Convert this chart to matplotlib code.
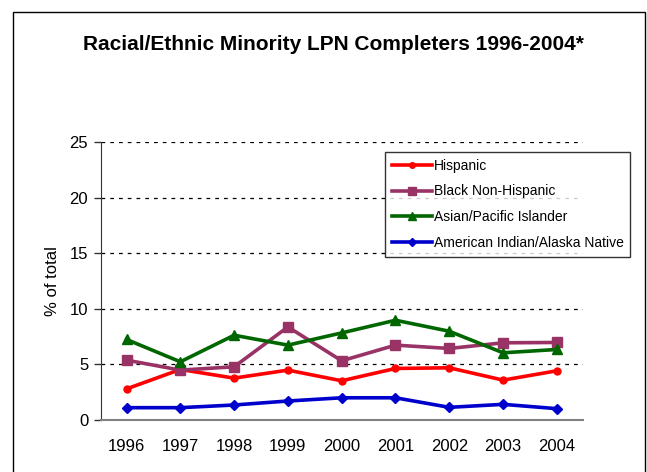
import matplotlib
matplotlib.use("Agg")
import matplotlib.pyplot as plt
from matplotlib.patches import Rectangle
from matplotlib.lines import Line2D

plt.rcParams['font.family'] = ['Liberation Sans', 'DejaVu Sans']

years = ["1996", "1997", "1998", "1999", "2000", "2001", "2002", "2003", "2004"]
hispanic = [2.8, 4.55, 3.77, 4.49, 3.53, 4.64, 4.70, 3.59, 4.43]
black = [5.39, 4.49, 4.79, 8.38, 5.33, 6.74, 6.44, 6.95, 6.98]
asian = [7.25, 5.24, 7.63, 6.74, 7.84, 8.98, 7.99, 6.05, 6.35]
amind = [1.11, 1.11, 1.35, 1.71, 2.0, 2.0, 1.14, 1.41, 1.02]
series_names = ["Hispanic", "Black Non-Hispanic", "Asian/Pacific Islander",
                "American Indian/Alaska Native"]
yticks = [0, 5, 10, 15, 20, 25]

W, H = 647, 472
fig = plt.figure(figsize=(W / 100, H / 100), dpi=100)
fig.patch.set_facecolor('white')

# outer frame
fig.patches.append(Rectangle((13.3 / W, -0.1), (645 - 13.3) / W, 1 - 11.7 / H + 0.1,
                             transform=fig.transFigure, fill=False,
                             edgecolor='black', linewidth=1.0, zorder=0))

ax = fig.add_axes([100.7 / W, 1 - 420 / H, (582.7 - 100.7) / W, (420 - 142.3) / H])

x = list(range(len(years)))
styles = [
    (hispanic, '#FF0000', 'o', 5),
    (black, '#993366', 's', 7),
    (asian, '#006600', '^', 7),
    (amind, '#0000CC', 'D', 5.5),
]
handles = []
for (vals, col, mk, ms), name in zip(styles, series_names):
    ln, = ax.plot(x, vals, color=col, marker=mk, markersize=ms, linewidth=2.6,
                  markeredgecolor=col, label=name, zorder=3, clip_on=False)
    handles.append(ln)

ax.set_xlim(-0.48, len(years) - 1 + 0.48)
ax.set_ylim(0, 25)
ax.set_yticks(yticks)
ax.set_xticks(x)
ax.set_xticklabels(years)
ax.tick_params(axis='x', length=0, pad=14, labelsize=12)
ax.tick_params(axis='y', length=5, width=1, direction='out', pad=4, labelsize=12,
               color='#333333')
for yv in yticks[1:]:
    ax.axhline(yv, color='black', linestyle=(0, (3, 4)), linewidth=0.9, zorder=1)

for s in ['top', 'right']:
    ax.spines[s].set_visible(False)
ax.spines['left'].set_color('#333333')
ax.spines['bottom'].set_color('#808080')
ax.spines['bottom'].set_linewidth(1.5)

ax.set_ylabel("% of total", fontsize=12, labelpad=7)

fig.text(333 / W, 1 - 44 / H, "Racial/Ethnic Minority LPN Completers 1996-2004*",
         ha='center', va='center', fontsize=15, fontweight='bold')

leg_handles = [Line2D([0], [0], color=h.get_color(), marker=h.get_marker(),
                      markersize=h.get_markersize() * 0.8, linewidth=2.6)
               for h in handles]
leg = fig.legend(leg_handles, series_names, loc='upper left',
                 bbox_to_anchor=(385 / W, 1 - 151.7 / H),
                 bbox_transform=fig.transFigure,
                 fontsize=10, frameon=True, fancybox=False, handlelength=2.9,
                 handletextpad=0.1, labelspacing=0.85, borderpad=0.5,
                 borderaxespad=0)
leg.get_frame().set_edgecolor('black')
leg.get_frame().set_linewidth(1.0)

fig.savefig("out.png", dpi=100, facecolor='white')
